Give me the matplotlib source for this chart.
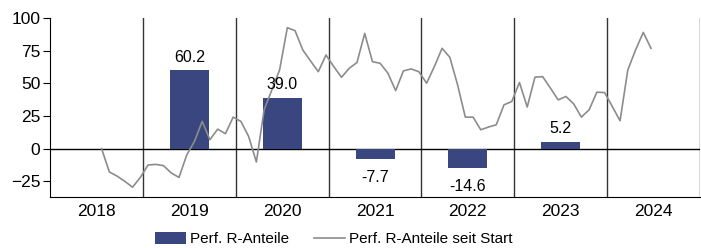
import numpy as np
import pandas as pd
import matplotlib.pyplot as plt

plt.rcParams['font.family'] = ['Liberation Sans', 'DejaVu Sans']

# Jahresperformance (Balken)
years = ['2018', '2019', '2020', '2021', '2022', '2023', '2024']
perf_year = [np.nan, 60.2, 39.0, -7.7, -14.6, 5.2, np.nan]

# Performance seit Start (monatlich, ab Juli 2018)
start_month = '2018-07-01'
perf_since_start = [
    0, -17.8, -21, -25, -29.5, -22, -12.5, -12, -13, -18.6, -22, -4.8,
    5.6, 20.9, 6.9, 15, 11.5, 24.2, 20.9, 9.4, -10.2, 29.8, 45, 60.3,
    92.7, 90.4, 75.6, 67.2, 59, 71.8, 62.9, 54.7, 61.6, 66, 88.3, 66.7,
    65.4, 57.8, 44.5, 59.6, 61.1, 59, 50.2, 62.9, 76.9, 70, 49, 24.2,
    24.2, 14.5, 16.6, 18.3, 33.6, 36.1, 50.7, 31.9, 54.8, 55.2, 46.4, 37.4,
    40, 34.4, 24.2, 29.8, 43.3, 43, 32.3, 21.4, 60.3, 75.6, 89.1, 76.9,
]

bar_color = '#3a4680'
line_color = '#8c8c8c'

months = pd.date_range(start_month, periods=len(perf_since_start), freq='MS')
x_line = (months.year - 2018) - 0.5 + (months.month - 1 + 0.67) / 12

fig = plt.figure(figsize=(7.01, 2.48), dpi=100)
ax = fig.add_axes([50 / 701, 1 - 197 / 248, 650 / 701, (197 - 17.5) / 248])

pos = np.arange(len(years))
bars = ax.bar(pos, perf_year, width=0.42, color=bar_color, zorder=2,
              label='Perf. R-Anteile')
line, = ax.plot(x_line, perf_since_start, color=line_color, lw=1.2, zorder=3,
                label='Perf. R-Anteile seit Start')

# Werte an den Balken
for p, v in zip(pos, perf_year):
    if np.isnan(v):
        continue
    if v >= 0:
        ax.annotate(f'{v:.1f}', (p, v), xytext=(0, 4), textcoords='offset points',
                    ha='center', va='bottom', fontsize=11.5)
    else:
        ax.annotate(f'{v:.1f}', (p, v), xytext=(0, -8), textcoords='offset points',
                    ha='center', va='top', fontsize=11.5)

# Trennlinien zwischen den Jahren
for b in np.arange(0.5, len(years) + 0.5, 1):
    ax.axvline(b, color='#333333', lw=1, zorder=1)
ax.axhline(0, color='black', lw=1, zorder=1)

ax.set_xlim(-0.5, len(years) - 0.5)
ax.set_ylim(-37, 100.5)
ax.set_yticks([-25, 0, 25, 50, 75, 100])
ax.set_xticks(pos)
ax.set_xticklabels(years)
ax.tick_params(axis='x', length=0, labelsize=12.5, pad=5)
ax.tick_params(axis='y', length=5, labelsize=12.5, pad=2)
ax.spines['top'].set_visible(False)
ax.spines['right'].set_visible(False)

fig.legend(handles=[bars, line], loc='center',
           bbox_to_anchor=(334 / 701, 1 - 239 / 248), ncol=2,
           frameon=False, fontsize=11, handlelength=2.0, handleheight=0.8,
           handletextpad=0.3, columnspacing=1.6)

plt.savefig('out.png', dpi=100)
